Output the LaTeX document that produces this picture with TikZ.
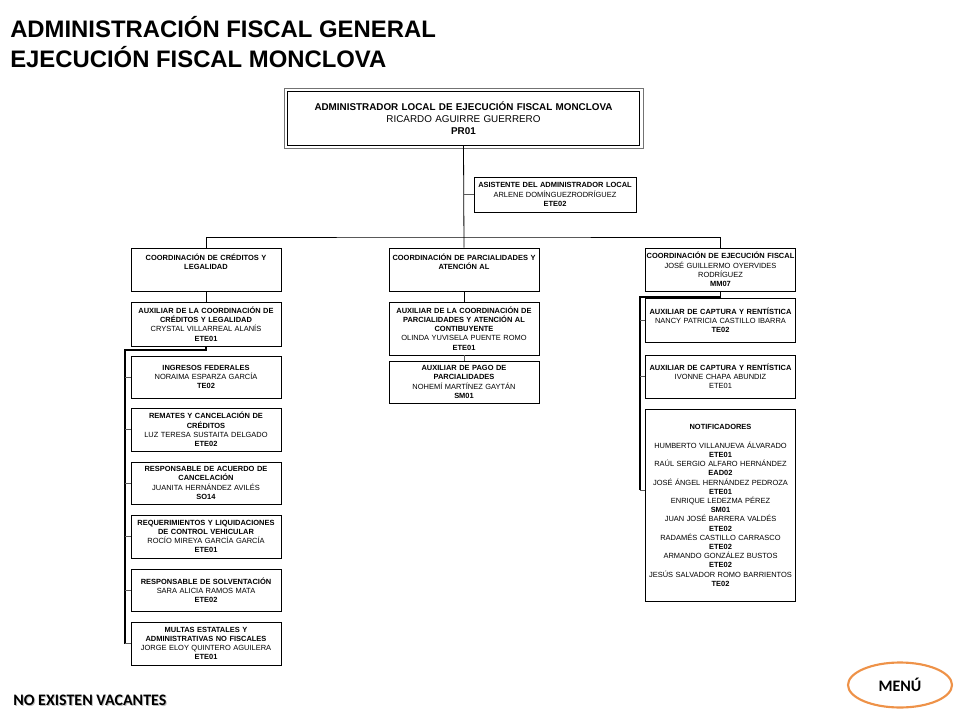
\documentclass[tikz,border=0pt]{standalone}
\usepackage{fontspec}
\setmainfont{Liberation Sans}
\newfontfamily\calibri{Carlito}
\usetikzlibrary{shapes.geometric}
\definecolor{menuorange}{RGB}{238,146,72}
\tikzset{
    orgbox/.style={draw=black, line width=0.6pt, fill=white, minimum width=112.5pt, text width=112pt,
        inner xsep=0pt, inner ysep=1pt, align=center, font=\fontsize{5.6}{6.9}\selectfont},
    orgtext/.style={text width=112pt, inner xsep=0pt, inner ysep=1pt, align=center, font=\fontsize{5.6}{6.9}\selectfont},
}
\tikzset{trunk/.style={line width=1.1pt, black}}
\tikzset{branch/.style={line width=0.5pt, black!65}}

\begin{document}
\begin{tikzpicture}[x=0.75pt, y=-0.75pt]
    \newcommand\posL{206}
    \newcommand\posM{464}
    \newcommand\posR{720.5}

    \useasboundingbox (0,0) rectangle (960,720);

    \node[anchor=base west, inner sep=0pt, font=\bfseries\fontsize{17.9}{20}\selectfont] (title1) at (10,38) {ADMINISTRACIÓN FISCAL GENERAL};
    \node[anchor=base west, inner sep=0pt, font=\bfseries\fontsize{17.9}{20}\selectfont] (title2) at (10,68) {EJECUCIÓN FISCAL MONCLOVA};

    \node[draw=black, line width=0.8pt, minimum width=260pt, minimum height=40pt,
        text width=258pt, align=center, font=\fontsize{7.4}{9}\selectfont] (admin) at (463.5, 118.5)
        {\textbf{ADMINISTRADOR LOCAL DE EJECUCIÓN FISCAL MONCLOVA}\\RICARDO AGUIRRE GUERRERO\\\textbf{PR01}};
    \draw[black!55, line width=0.6pt] ([shift={(-2.5,2.5)}]admin.south west) rectangle ([shift={(2.5,-2.5)}]admin.north east);
    \node[orgbox, minimum width=121.5pt, text width=121pt, minimum height=26.25pt] (asis) at (555, 194.5)
        {\textbf{ASISTENTE DEL ADMINISTRADOR LOCAL}\\ARLENE DOMÍNGUEZRODRÍGUEZ\\\textbf{ETE02}};

    % coordinaciones
    \node[orgbox, minimum height=32.25pt] (coordL) at (\posL, 269.5){};
    \node[orgtext, anchor=north] (labCL) at (\posL, 252){\textbf{COORDINACIÓN DE CRÉDITOS Y}\\\textbf{LEGALIDAD}};
    \node[orgbox, minimum height=32.25pt] (coordM) at (\posM, 269.5){};
    \node[orgtext, anchor=north] (labCM) at (\posM, 252){\textbf{COORDINACIÓN DE PARCIALIDADES Y}\\\textbf{ATENCIÓN AL}};
    \node[orgbox, minimum height=32.25pt] (coordR) at (\posR, 269.5)
        {\textbf{COORDINACIÓN DE EJECUCIÓN FISCAL}\\JOSÉ GUILLERMO OYERVIDES\\RODRÍGUEZ\\\textbf{MM07}};

    % columna izquierda
    \node[orgbox, minimum height=33pt] (auxL) at (\posL, 324)
        {\textbf{AUXILIAR DE LA COORDINACIÓN DE}\\\textbf{CRÉDITOS Y LEGALIDAD}\\CRYSTAL VILLARREAL ALANÍS\\\textbf{ETE01}};
    \node[orgbox, minimum height=31.5pt] (ingresos) at (\posL, 377)
        {\textbf{INGRESOS FEDERALES}\\NORAIMA ESPARZA GARCÍA\\\textbf{TE02}};
    \node[orgbox, minimum height=32.25pt] (remates) at (\posL, 429.5)
        {\textbf{REMATES Y CANCELACIÓN DE}\\\textbf{CRÉDITOS}\\LUZ TERESA SUSTAITA DELGADO\\\textbf{ETE02}};
    \node[orgbox, minimum height=31.5pt] (acuerdo) at (\posL, 483)
        {\textbf{RESPONSABLE DE ACUERDO DE}\\\textbf{CANCELACIÓN}\\JUANITA HERNÁNDEZ AVILÉS\\\textbf{SO14}};
    \node[orgbox, minimum height=32.25pt] (requer) at (\posL, 536.5)
        {\textbf{REQUERIMIENTOS Y LIQUIDACIONES}\\\textbf{DE CONTROL VEHICULAR}\\ROCÍO MIREYA GARCÍA GARCÍA\\\textbf{ETE01}};
    \node[orgbox, minimum height=31.5pt] (solvent) at (\posL, 590)
        {\textbf{RESPONSABLE DE SOLVENTACIÓN}\\SARA ALICIA RAMOS MATA\\\textbf{ETE02}};
    \node[orgbox, minimum height=32.25pt] (multas) at (\posL, 643.5)
        {\textbf{MULTAS ESTATALES Y}\\\textbf{ADMINISTRATIVAS NO FISCALES}\\JORGE ELOY QUINTERO AGUILERA\\\textbf{ETE01}};

    % columna central
    \node[orgbox, minimum height=39.75pt] (auxM) at (\posM, 328.5)
        {\textbf{AUXILIAR DE LA COORDINACIÓN DE}\\\textbf{PARCIALIDADES Y ATENCIÓN AL}\\\textbf{CONTIBUYENTE}\\OLINDA YUVISELA PUENTE ROMO\\\textbf{ETE01}};
    \node[orgbox, minimum height=31.5pt] (pago) at (\posM, 382)
        {\textbf{AUXILIAR DE PAGO DE}\\\textbf{PARCIALIDADES}\\NOHEMÍ MARTÍNEZ GAYTÁN\\\textbf{SM01}};

    % columna derecha
    \node[orgbox, minimum height=33pt] (aux1) at (\posR, 320)
        {\textbf{AUXILIAR DE CAPTURA Y RENTÍSTICA}\\NANCY PATRICIA CASTILLO IBARRA\\\textbf{TE02}};
    \node[orgbox, minimum height=32.25pt] (aux2) at (\posR, 376.5)
        {\textbf{AUXILIAR DE CAPTURA Y RENTÍSTICA}\\IVONNE CHAPA ABUNDIZ\\ETE01};
    \node[orgbox, minimum height=144pt] (notif) at (\posR, 505){};
    \node[orgtext, anchor=north] (labN) at (\posR, 423)
        {\textbf{NOTIFICADORES}\\[6.9pt]
        HUMBERTO VILLANUEVA ÁLVARADO\\\textbf{ETE01}\\
        RAÚL SERGIO ALFARO HERNÁNDEZ\\\textbf{EAD02}\\
        JOSÉ ÁNGEL HERNÁNDEZ PEDROZA\\\textbf{ETE01}\\
        ENRIQUE LEDEZMA PÉREZ\\\textbf{SM01}\\
        JUAN JOSÉ BARRERA VALDÉS\\\textbf{ETE02}\\
        RADAMÉS CASTILLO CARRASCO\\\textbf{ETE02}\\
        ARMANDO GONZÁLEZ BUSTOS\\\textbf{ETE02}\\
        JESÚS SALVADOR ROMO BARRIENTOS\\\textbf{TE02}};

    % lineas
    \coordinate (hub) at (\posM, 237);
    \coordinate (busL) at (125, 350);
    \coordinate (busR) at (640, 297);
    \coordinate (endR) at (640, 490);

    \draw[line width=0.6pt] (admin.south) -- (coordM.north);
    \draw[line width=0.6pt] (coordL.north) |- (hub) -| (coordR.north);
    \draw[branch] (asis.west) -- (asis.west -| admin.south);
    \draw[line width=0.6pt] (coordL.south) -- (auxL.north);
    \draw[line width=0.6pt] (coordM.south) -- (auxM.north);
    \draw[branch] (auxM.south) -- (pago.north);

    \draw[trunk] (auxL.south) |- (busL) -- (busL |- multas.west);
    \foreach \n in {ingresos, remates, acuerdo, requer, solvent, multas}
        \draw[branch] (\n.west) -- (\n.west -| busL);

    \draw[trunk] (coordR.south) |- (busR) -- (endR);
    \foreach \n in {aux1, aux2}
        \draw[branch] (\n.west) -- (\n.west -| busR);
    \draw[branch] (endR) -- (endR -| notif.west);

    \node[anchor=base west, inner sep=0pt, text=black!25, font=\calibri\bfseries\fontsize{12}{14}\selectfont] (vacS) at (14,706) {NO EXISTEN VACANTES};
    \node[anchor=base west, inner sep=0pt, font=\calibri\bfseries\fontsize{12}{14}\selectfont] (vac) at (13,705) {NO EXISTEN VACANTES};
    \node[ellipse, draw=menuorange, line width=1.6pt, minimum width=78pt, minimum height=33.75pt,
        font=\calibri\bfseries\fontsize{12}{14}\selectfont] (menu) at (900, 685) {MENÚ};
    \end{tikzpicture}
\end{document}
